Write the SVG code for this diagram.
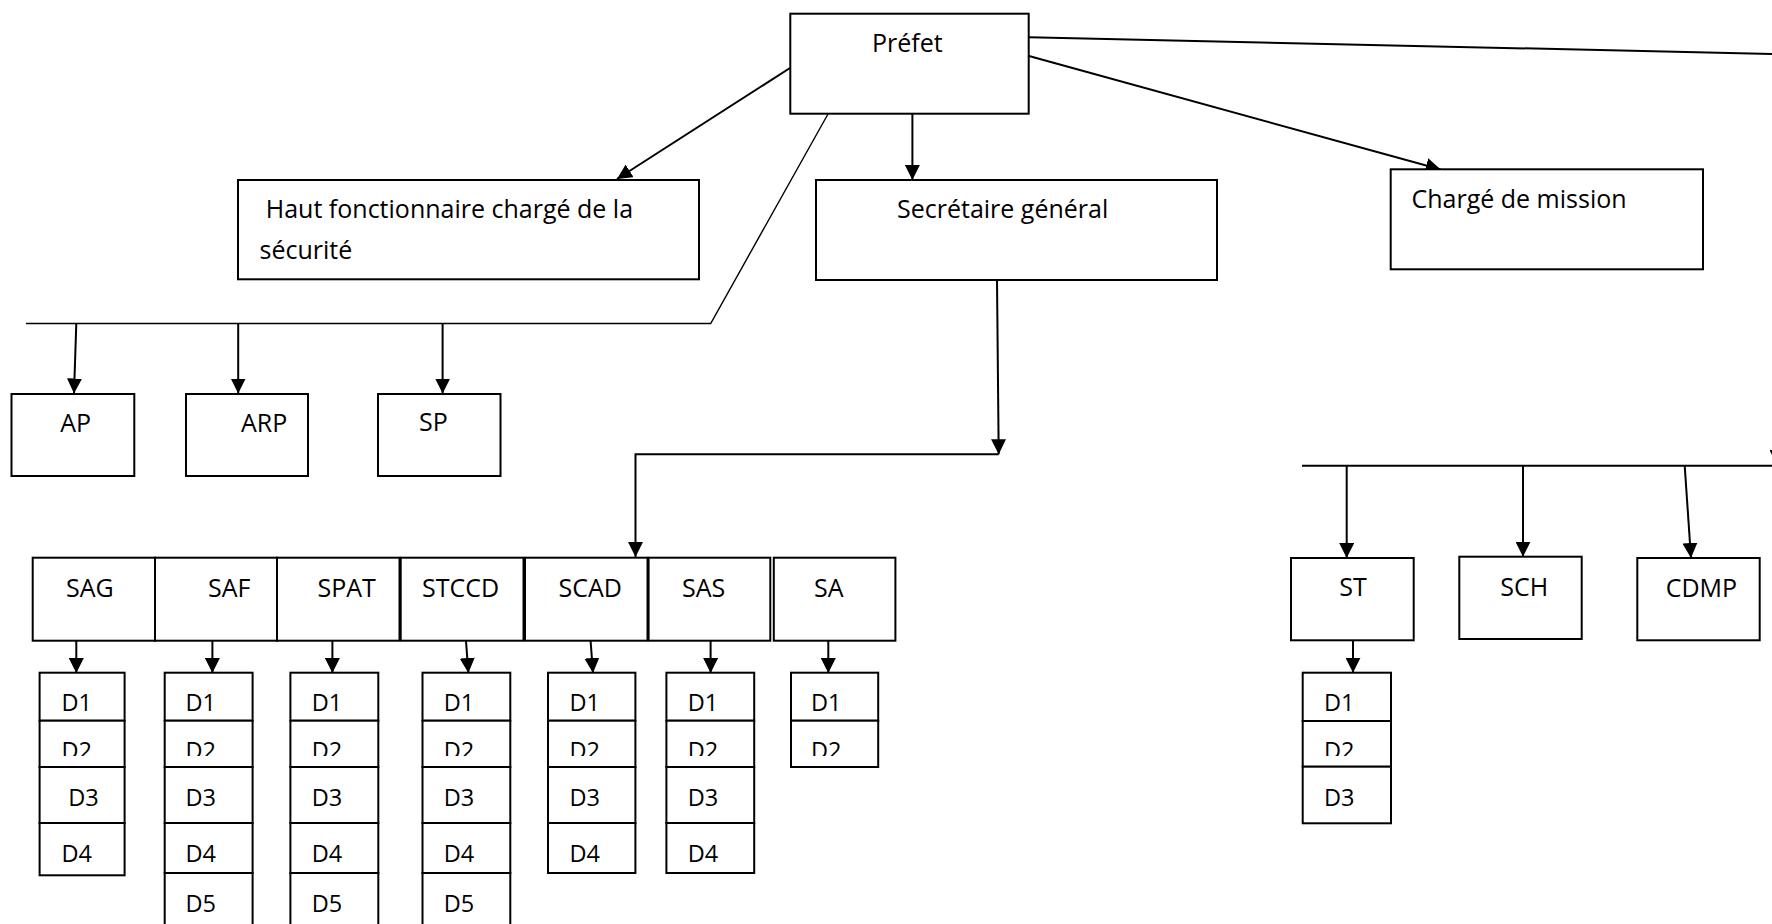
<svg xmlns="http://www.w3.org/2000/svg" width="1772" height="924" viewBox="0 0 1772 924">
<style>
.box{fill:#fff;stroke:#000;stroke-width:2}
.c{fill:none;stroke:#000;stroke-width:2}
.thin{fill:none;stroke:#000;stroke-width:1.4}
.t{font-family:"Open Sans","Liberation Sans",sans-serif;font-size:25px;fill:#000}
.d{font-family:"Open Sans","Liberation Sans",sans-serif;font-size:23.5px;fill:#000}
</style>
<defs>
<marker id="ah" markerUnits="userSpaceOnUse" markerWidth="15" markerHeight="15" refX="15" refY="7.5" orient="auto">
<path d="M0,0 L15,7.5 L0,15 z" fill="#000"/>
</marker>
<clipPath id="clipD2"><rect x="0" y="725" width="1772" height="31"/></clipPath>
</defs>
<rect width="1772" height="924" fill="#fff"/>

<g id="connectors">
<line class="c" x1="790" y1="68" x2="617" y2="179" marker-end="url(#ah)"/>
<line class="c" x1="912.4" y1="114" x2="912.4" y2="180" marker-end="url(#ah)"/>
<line class="c" x1="1029" y1="56" x2="1440.7" y2="169.5" marker-end="url(#ah)"/>
<polyline class="c" points="1029,37.3 1777,54 1777,465" marker-end="url(#ah)"/>
<polyline class="thin" points="828,114 710.7,323.5 26,323.5"/>
<line class="c" x1="76.3" y1="323.5" x2="74" y2="393.5" marker-end="url(#ah)"/>
<line class="c" x1="238.2" y1="323.5" x2="238.2" y2="393.5" marker-end="url(#ah)"/>
<line class="c" x1="442.6" y1="323.5" x2="442.6" y2="393.5" marker-end="url(#ah)"/>
<line class="c" x1="997" y1="280" x2="998.7" y2="454.3" marker-end="url(#ah)"/>
<polyline class="c" points="998.7,454.3 635.5,454.3 635.5,557" marker-end="url(#ah)"/>
<line class="c" x1="76.3" y1="641" x2="76.3" y2="673" marker-end="url(#ah)"/>
<line class="c" x1="212.4" y1="641" x2="212.4" y2="673" marker-end="url(#ah)"/>
<line class="c" x1="332.4" y1="641" x2="332.4" y2="673" marker-end="url(#ah)"/>
<line class="c" x1="466" y1="641" x2="468.4" y2="673" marker-end="url(#ah)"/>
<line class="c" x1="590.6" y1="641" x2="593" y2="673" marker-end="url(#ah)"/>
<line class="c" x1="710.6" y1="641" x2="710.6" y2="673" marker-end="url(#ah)"/>
<line class="c" x1="828.3" y1="641" x2="828.3" y2="673" marker-end="url(#ah)"/>
<line class="c" x1="1302" y1="465.7" x2="1772" y2="465.7"/>
<line class="c" x1="1346.7" y1="465.7" x2="1346.7" y2="558" marker-end="url(#ah)"/>
<line class="c" x1="1523" y1="465.7" x2="1523" y2="556.7" marker-end="url(#ah)"/>
<line class="c" x1="1684.7" y1="465.7" x2="1691" y2="558" marker-end="url(#ah)"/>
<line class="c" x1="1353" y1="640.3" x2="1353" y2="672.7" marker-end="url(#ah)"/>
</g>

<g id="prefet">
<rect class="box" x="790.3" y="13.7" width="238.4" height="100"/>
<text class="t" x="872" y="52.3">Préfet</text>
</g>
<g id="haut-fonctionnaire">
<rect class="box" x="238" y="180" width="461" height="99.3"/>
<text class="t" x="265.8" y="218"><tspan x="265.8" y="218">Haut fonctionnaire chargé de la</tspan><tspan x="259.5" y="258.7">sécurité</tspan></text>
</g>
<g id="secretaire-general">
<rect class="box" x="816" y="180" width="401" height="100"/>
<text class="t" x="897" y="218.3">Secrétaire général</text>
</g>
<g id="charge-de-mission">
<rect class="box" x="1390.7" y="169.3" width="312.3" height="100"/>
<text class="t" x="1411.5" y="207.7">Chargé de mission</text>
</g>

<g id="ap"><rect class="box" x="11.5" y="394" width="122.8" height="82"/><text class="t" x="60.3" y="431.7">AP</text></g>
<g id="arp"><rect class="box" x="186" y="394" width="122" height="82"/><text class="t" x="241" y="431.7">ARP</text></g>
<g id="sp"><rect class="box" x="378" y="394" width="122.5" height="82"/><text class="t" x="419" y="431">SP</text></g>

<g id="sag"><rect class="box" x="32.7" y="557.7" width="122.3" height="83"/><text class="t" x="66" y="596.7">SAG</text></g>
<g id="saf"><rect class="box" x="155" y="557.7" width="122" height="83"/><text class="t" x="208" y="596.7">SAF</text></g>
<g id="spat"><rect class="box" x="277" y="557.7" width="122.5" height="83"/><text class="t" x="317.5" y="596.7">SPAT</text></g>
<g id="stccd"><rect class="box" x="400.7" y="557.7" width="122.8" height="83"/><text class="t" x="422" y="596.7">STCCD</text></g>
<g id="scad"><rect class="box" x="525" y="557.7" width="122.5" height="83"/><text class="t" x="558.5" y="596.7">SCAD</text></g>
<g id="sas"><rect class="box" x="648.6" y="557.7" width="121.7" height="83"/><text class="t" x="682" y="596.7">SAS</text></g>
<g id="sa"><rect class="box" x="773.8" y="557.7" width="121.6" height="83"/><text class="t" x="814" y="596.7">SA</text></g>

<g id="st"><rect class="box" x="1291" y="558" width="122.7" height="82.3"/><text class="t" x="1339.3" y="595.7">ST</text></g>
<g id="sch"><rect class="box" x="1459.3" y="556.7" width="122.4" height="82.3"/><text class="t" x="1500.3" y="595.7">SCH</text></g>
<g id="cdmp"><rect class="box" x="1637.3" y="558" width="122.4" height="82.3"/><text class="t" x="1665.7" y="597">CDMP</text></g>

<g id="sag-d">
<rect class="box" x="39.6" y="672.7" width="85" height="48"/>
<rect class="box" x="39.6" y="720.7" width="85" height="46.3"/>
<rect class="box" x="39.6" y="767" width="85" height="56"/>
<rect class="box" x="39.6" y="823" width="85" height="52.3"/>
<text class="d" x="61.4" y="711">D1</text>
<text class="d" x="61.4" y="759.4" clip-path="url(#clipD2)">D2</text>
<text class="d" x="68.3" y="805.7">D3</text>
<text class="d" x="61.4" y="861.7">D4</text>
</g>
<g id="saf-d">
<rect class="box" x="164.7" y="672.7" width="87.9" height="48"/>
<rect class="box" x="164.7" y="720.7" width="87.9" height="46.3"/>
<rect class="box" x="164.7" y="767" width="87.9" height="56"/>
<rect class="box" x="164.7" y="823" width="87.9" height="50"/>
<rect class="box" x="164.7" y="873" width="87.9" height="60"/>
<text class="d" x="185.4" y="711">D1</text>
<text class="d" x="185.4" y="759.4" clip-path="url(#clipD2)">D2</text>
<text class="d" x="185.4" y="805.7">D3</text>
<text class="d" x="185.4" y="861.7">D4</text>
<text class="d" x="185.4" y="911.7">D5</text>
</g>
<g id="spat-d">
<rect class="box" x="290.4" y="672.7" width="87.9" height="48"/>
<rect class="box" x="290.4" y="720.7" width="87.9" height="46.3"/>
<rect class="box" x="290.4" y="767" width="87.9" height="56"/>
<rect class="box" x="290.4" y="823" width="87.9" height="50"/>
<rect class="box" x="290.4" y="873" width="87.9" height="60"/>
<text class="d" x="311.7" y="711">D1</text>
<text class="d" x="311.7" y="759.4" clip-path="url(#clipD2)">D2</text>
<text class="d" x="311.7" y="805.7">D3</text>
<text class="d" x="311.7" y="861.7">D4</text>
<text class="d" x="311.7" y="911.7">D5</text>
</g>
<g id="stccd-d">
<rect class="box" x="422.5" y="672.7" width="87.8" height="48"/>
<rect class="box" x="422.5" y="720.7" width="87.8" height="46.3"/>
<rect class="box" x="422.5" y="767" width="87.8" height="56"/>
<rect class="box" x="422.5" y="823" width="87.8" height="50"/>
<rect class="box" x="422.5" y="873" width="87.8" height="60"/>
<text class="d" x="443.7" y="711">D1</text>
<text class="d" x="443.7" y="759.4" clip-path="url(#clipD2)">D2</text>
<text class="d" x="443.7" y="805.7">D3</text>
<text class="d" x="443.7" y="861.7">D4</text>
<text class="d" x="443.7" y="911.7">D5</text>
</g>
<g id="scad-d">
<rect class="box" x="548" y="672.7" width="87.4" height="48"/>
<rect class="box" x="548" y="720.7" width="87.4" height="46.3"/>
<rect class="box" x="548" y="767" width="87.4" height="56"/>
<rect class="box" x="548" y="823" width="87.4" height="50"/>
<text class="d" x="569.4" y="711">D1</text>
<text class="d" x="569.4" y="759.4" clip-path="url(#clipD2)">D2</text>
<text class="d" x="569.4" y="805.7">D3</text>
<text class="d" x="569.4" y="861.7">D4</text>
</g>
<g id="sas-d">
<rect class="box" x="666.4" y="672.7" width="87.8" height="48"/>
<rect class="box" x="666.4" y="720.7" width="87.8" height="46.3"/>
<rect class="box" x="666.4" y="767" width="87.8" height="56"/>
<rect class="box" x="666.4" y="823" width="87.8" height="50"/>
<text class="d" x="687.7" y="711">D1</text>
<text class="d" x="687.7" y="759.4" clip-path="url(#clipD2)">D2</text>
<text class="d" x="687.7" y="805.7">D3</text>
<text class="d" x="687.7" y="861.7">D4</text>
</g>
<g id="sa-d">
<rect class="box" x="791" y="672.7" width="87.2" height="48"/>
<rect class="box" x="791" y="720.7" width="87.2" height="46.3"/>
<text class="d" x="811" y="711">D1</text>
<text class="d" x="811" y="759.4" clip-path="url(#clipD2)">D2</text>
</g>
<g id="st-d">
<rect class="box" x="1302.7" y="672.7" width="88.3" height="48.3"/>
<rect class="box" x="1302.7" y="721" width="88.3" height="45.7"/>
<rect class="box" x="1302.7" y="766.7" width="88.3" height="56.6"/>
<text class="d" x="1324" y="710.7">D1</text>
<text class="d" x="1324" y="759.4" clip-path="url(#clipD2)">D2</text>
<text class="d" x="1324" y="805.7">D3</text>
</g>
</svg>
